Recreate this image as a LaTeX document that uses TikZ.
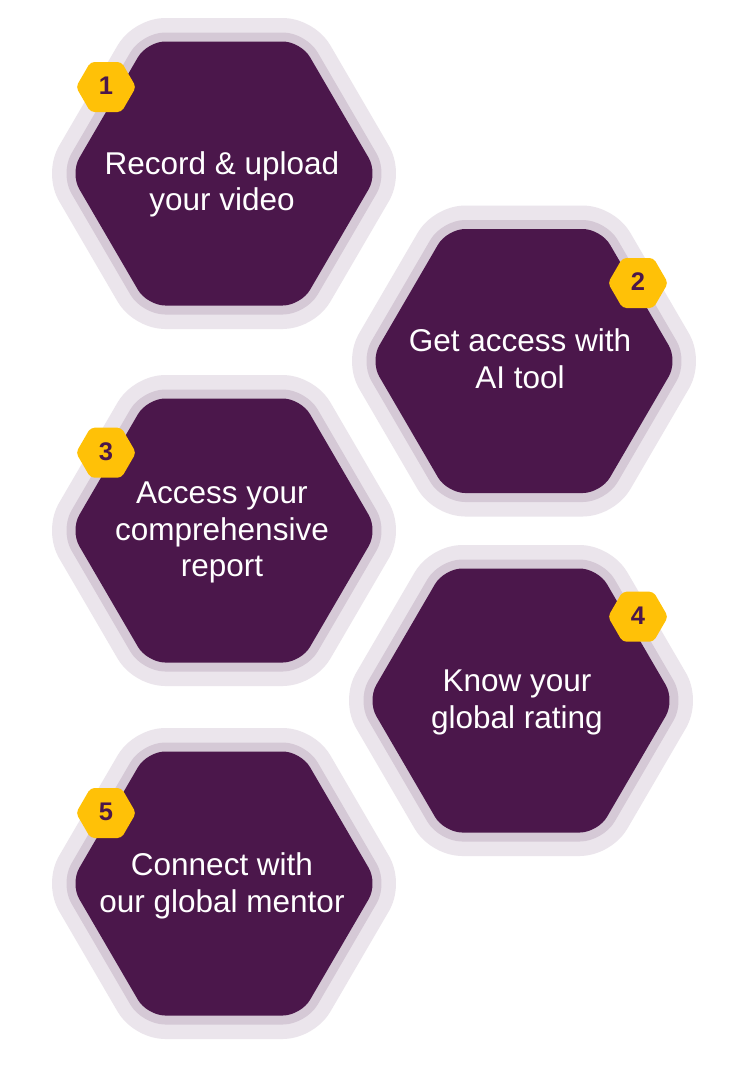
\documentclass[tikz,border=0pt]{standalone}
\usepackage{fontspec}
\setmainfont{Liberation Sans}

\definecolor{plum}{RGB}{75,23,75}
\definecolor{ringmid}{RGB}{213,201,214}
\definecolor{ringout}{RGB}{235,229,236}
\definecolor{amber}{RGB}{255,193,7}

\tikzset{
  % large step cell: pale halo, mid ring, dark plum core
  cell/.pic={
    \path[draw=ringout, line width=47pt, line join=round, rounded corners=18pt]
      (153.8,0) -- (76.9,132) -- (-76.9,132) -- (-153.8,0) -- (-76.9,-132) -- (76.9,-132) -- cycle;
    \path[draw=ringmid, line width=18pt, line join=round, rounded corners=18pt]
      (153.8,0) -- (76.9,132) -- (-76.9,132) -- (-153.8,0) -- (-76.9,-132) -- (76.9,-132) -- cycle;
    \path[fill=plum, rounded corners=18pt]
      (153.8,0) -- (76.9,132) -- (-76.9,132) -- (-153.8,0) -- (-76.9,-132) -- (76.9,-132) -- cycle;
  },
  % small numbered tag
  tag/.pic={
    \path[fill=amber, rounded corners=4pt]
      (30,0) -- (15.5,25) -- (-15.5,25) -- (-30,0) -- (-15.5,-25) -- (15.5,-25) -- cycle;
  },
  celltext/.style={text=white, inner sep=0pt, anchor=base,
    font=\fontsize{31.5}{36.5}\selectfont},
  tagnum/.style={text=plum, inner sep=0pt, anchor=center,
    font=\fontsize{25.5}{25.5}\selectfont\bfseries},
}

\begin{document}
\begin{tikzpicture}[x=1pt, y=-1pt]
  \useasboundingbox[fill=white] (0,0) rectangle (748,1088);

  % cells
  \pic at (224,173.5) {cell};
  \pic at (524,361)   {cell};
  \pic at (224,530.5) {cell};
  \pic at (521,700.5) {cell};
  \pic at (224,883.5) {cell};

  % tags
  \pic at (106,87)    {tag};
  \pic at (638,283)   {tag};
  \pic at (106,452.7) {tag};
  \pic at (638,616.7) {tag};
  \pic at (106,813)   {tag};

  \node[tagnum] (n1) at (106,86)    {1};
  \node[tagnum] (n2) at (638,282)   {2};
  \node[tagnum] (n3) at (106,451.7) {3};
  \node[tagnum] (n4) at (638,615.7) {4};
  \node[tagnum] (n5) at (106,812)   {5};

  % captions
  \node[celltext] (t1a) at (222,174)   {Record \& upload};
  \node[celltext] (t1b) at (222,210)   {your video};

  \node[celltext] (t2a) at (520,351.7) {Get access with};
  \node[celltext] (t2b) at (520,388.3) {AI tool};

  \node[celltext] (t3a) at (222,503.3) {Access your};
  \node[celltext] (t3b) at (222,540)   {comprehensive};
  \node[celltext] (t3c) at (222,576)   {report};

  \node[celltext] (t4a) at (517,691.7) {Know your};
  \node[celltext] (t4b) at (517,728.3) {global rating};

  \node[celltext] (t5a) at (222,875.7) {Connect with};
  \node[celltext] (t5b) at (222,912.3) {our global mentor};
\end{tikzpicture}
\end{document}
